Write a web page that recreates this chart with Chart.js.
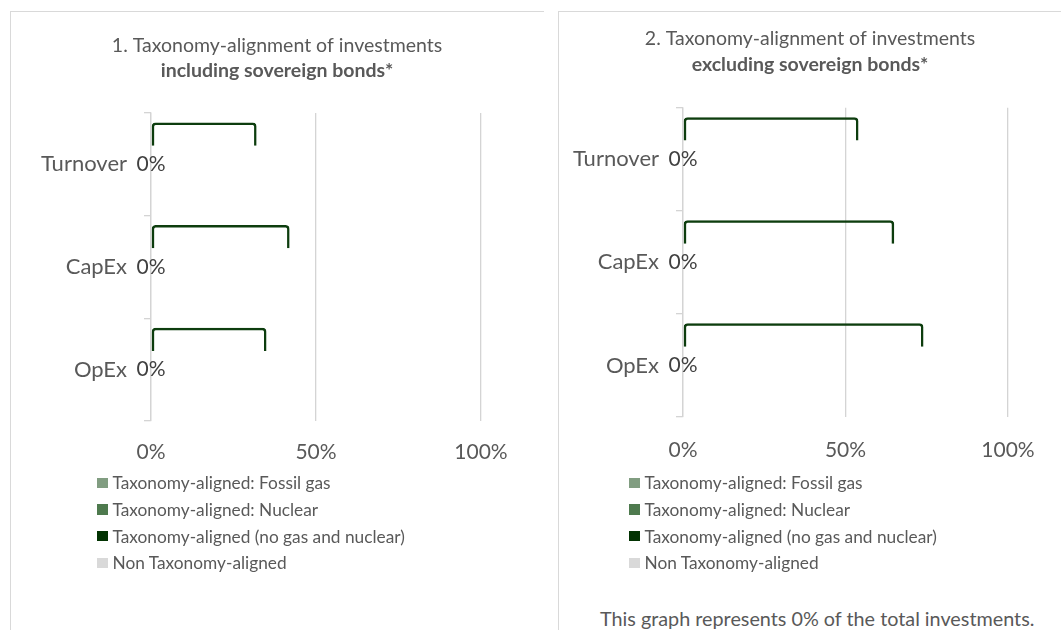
<!DOCTYPE html>
<html>
<head>
<meta charset="utf-8">
<script src="https://cdn.jsdelivr.net/npm/chart.js@4.4.0/dist/chart.umd.min.js"></script>
<style>
  body { margin: 0; width: 1061px; height: 630px; overflow: hidden; background: #fff; font-family: Lato, "Open Sans", sans-serif; }
  .panel { position: absolute; border-left: 1px solid #d9d9d9; border-top: 1px solid #d9d9d9; height: 640px; }
  .box { position: absolute; }
  .legend { position: absolute; color: #595959; font-size: 17.3px; }
  .legend .row { display: flex; align-items: center; height: 26.7px; white-space: nowrap; }
  .legend .mark { width: 10.5px; height: 10.5px; margin-right: 5px; }
  #note { position: absolute; left: 600px; top: 606px; line-height: 24px; font-size: 19.8px; color: #595959; white-space: nowrap; }
</style>
</head>
<body>
<div class="panel" style="left:10px;top:11px;width:533px"></div>
<div class="panel" style="left:558px;top:11px;width:520px"></div>

<div class="box" style="left:11px;top:12px"><canvas id="chart1" width="532" height="470"></canvas></div>
<div class="box" style="left:559px;top:12px"><canvas id="chart2" width="502" height="470"></canvas></div>

<div id="legend1" class="legend" style="left:97px;top:469.5px"></div>
<div id="legend2" class="legend" style="left:629px;top:469.5px"></div>
<div id="note"></div>

<script>
const categories = ["Turnover", "CapEx", "OpEx"];
const seriesNames = [
  "Taxonomy-aligned: Fossil gas",
  "Taxonomy-aligned: Nuclear",
  "Taxonomy-aligned (no gas and nuclear)",
  "Non Taxonomy-aligned"
];
const xTickValues = [0, 50, 100];

// 1. including sovereign bonds
const fossilGasIncl = [0, 0, 0];
const nuclearIncl = [0, 0, 0];
const alignedIncl = [0, 0, 0];
const nonAlignedIncl = [0, 0, 0];
const outlineIncl = [32, 42, 35];

// 2. excluding sovereign bonds
const fossilGasExcl = [0, 0, 0];
const nuclearExcl = [0, 0, 0];
const alignedExcl = [0, 0, 0];
const nonAlignedExcl = [0, 0, 0];
const outlineExcl = [54, 65, 74];

const shareOfInvestments = 0;

const FONT = "Lato, 'Open Sans', sans-serif";
const seriesColors = ["#819d81", "#4e7a4e", "#023302", "#d9d9d9"];

// "0%" labels next to the axis (only the aligned series is labelled)
const valueLabels = {
  id: "valueLabels",
  afterDatasetsDraw(chart) {
    const ds = chart.data.datasets.find(d => d.label === seriesNames[2]);
    const ctx = chart.ctx;
    ctx.save();
    ctx.font = "21px " + FONT;
    ctx.fillStyle = "#404040";
    ctx.textAlign = "center";
    ctx.textBaseline = "middle";
    ds.data.forEach((v, i) => {
      ctx.fillText(v + "%", chart.scales.x.getPixelForValue(v), chart.scales.y.getPixelForValue(i));
    });
    ctx.restore();
  }
};

function makeDatasets(fossil, nuclear, aligned, nonAligned, outline) {
  const values = [fossil, nuclear, aligned, nonAligned];
  const sets = seriesNames.map((name, i) => ({
    label: name,
    data: values[i],
    backgroundColor: seriesColors[i],
    borderWidth: 0,
    inflateAmount: 0,
    stack: "share",
    xAxisID: "x",
    yAxisID: "y"
  }));
  sets.unshift({
    label: "outline",
    data: outline,
    backgroundColor: "transparent",
    borderColor: "#0d3d0e",
    borderWidth: 2.5,
    borderSkipped: "bottom",
    borderRadius: { topLeft: 4, topRight: 4, bottomLeft: 0, bottomRight: 0 },
    inflateAmount: 0,
    stack: "outline",
    xAxisID: "x",
    yAxisID: "y"
  });
  return sets;
}

function makeChart(id, title, subtitle, datasets, lay) {
  const ctx = document.getElementById(id).getContext("2d");
  return new Chart(ctx, {
    type: "bar",
    data: { labels: categories, datasets: datasets },
    options: {
      responsive: false,
      animation: false,
      indexAxis: "y",
      categoryPercentage: 1.18,
      barPercentage: 0.385,
      layout: { padding: 0 },
      plugins: {
        legend: { display: false },
        tooltip: { enabled: false },
        title: {
          display: true,
          text: title,
          color: "#595959",
          font: { family: FONT, size: 19.5, weight: "normal" },
          padding: { top: lay.titleTop, bottom: lay.titleBottom }
        },
        subtitle: {
          display: true,
          text: subtitle,
          color: "#595959",
          font: { family: FONT, size: 19.5, weight: "bold" },
          padding: { top: 0, bottom: lay.subBottom }
        }
      },
      scales: {
        x: {
          stacked: true,
          min: 0,
          max: 100,
          afterBuildTicks: s => { s.ticks = xTickValues.map(v => ({ value: v })); },
          afterFit: s => { s.height = lay.xHeight; },
          grid: { color: "#d4d4d4", lineWidth: 1.3, drawTicks: false },
          border: { display: false },
          ticks: {
            padding: lay.xPad,
            color: "#595959",
            font: { family: FONT, size: 21 },
            callback: v => v + "%"
          }
        },
        y: {
          stacked: true,
          afterFit: s => { s.width = lay.yWidth; },
          grid: { color: "#d4d4d4", lineWidth: 1.3, drawOnChartArea: false, tickLength: 7, offset: true },
          border: { display: true, color: "#d4d4d4", width: 1.3 },
          ticks: { padding: 17, color: "#595959", font: { family: FONT, size: 22 } }
        },
        gap: {
          type: "linear",
          position: "right",
          afterFit: s => { s.width = lay.rightGap; },
          grid: { display: false },
          border: { display: false },
          ticks: { display: false }
        }
      }
    },
    plugins: [valueLabels]
  });
}

function buildLegend(chart, elId) {
  const el = document.getElementById(elId);
  chart.data.datasets.filter(d => seriesNames.includes(d.label)).forEach(d => {
    const row = document.createElement("div");
    row.className = "row";
    const mark = document.createElement("span");
    mark.className = "mark";
    mark.style.background = d.backgroundColor;
    const txt = document.createElement("span");
    txt.textContent = d.label;
    row.appendChild(mark);
    row.appendChild(txt);
    el.appendChild(row);
  });
}

const chart1 = makeChart("chart1",
  "1. Taxonomy-alignment of investments", "including sovereign bonds*",
  makeDatasets(fossilGasIncl, nuclearIncl, alignedIncl, nonAlignedIncl, outlineIncl),
  { titleTop: 22.3, titleBottom: 1.6, subBottom: 30.3, xHeight: 61, xPad: 19, yWidth: 140, rightGap: 62 });

const chart2 = makeChart("chart2",
  "2. Taxonomy-alignment of investments", "excluding sovereign bonds*",
  makeDatasets(fossilGasExcl, nuclearExcl, alignedExcl, nonAlignedExcl, outlineExcl),
  { titleTop: 15, titleBottom: 2.6, subBottom: 31.3, xHeight: 65, xPad: 21, yWidth: 124, rightGap: 53 });

buildLegend(chart1, "legend1");
buildLegend(chart2, "legend2");

document.getElementById("note").textContent =
  "This graph represents " + shareOfInvestments + "% of the total investments.";
</script>
</body>
</html>
